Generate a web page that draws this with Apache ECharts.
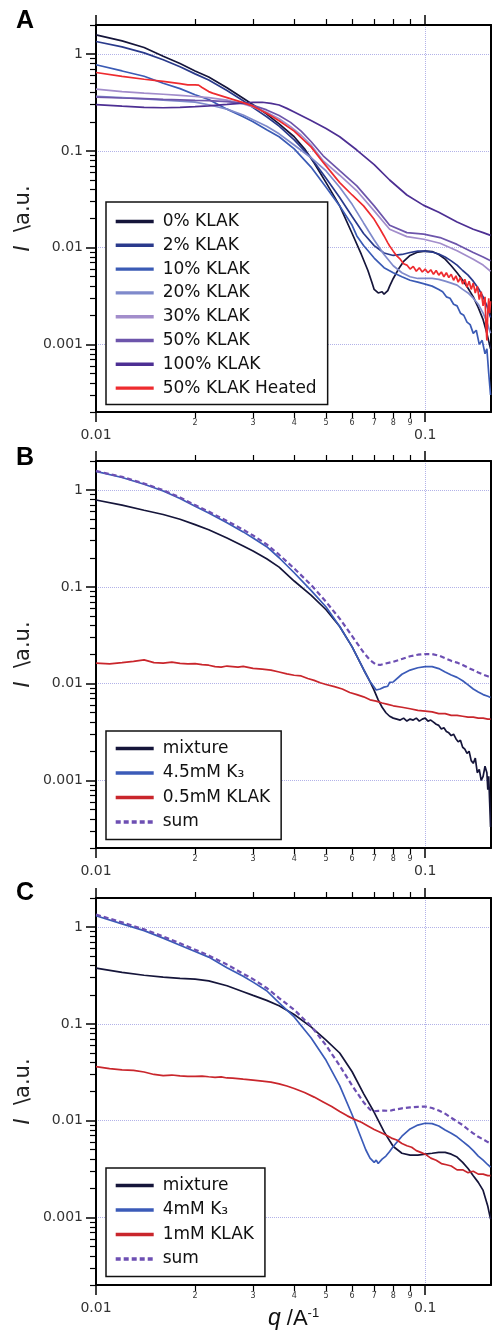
<!DOCTYPE html>
<html><head><meta charset="utf-8">
<script src="https://cdn.jsdelivr.net/npm/echarts@6/dist/echarts.min.js"></script>
<style>html,body{margin:0;padding:0;background:#fff}#c{width:492px;height:1341px}</style>
</head><body><div id="c"></div>
<script>
// ---------------- axis ranges & ticks ----------------
const X_MIN = 0.01, X_MAX = 0.1585;
const Y_MIN = 0.0002, Y_MAX = 2;
const X_MAJOR_TICKS = [0.01, 0.1];
const X_MINOR_TICKS = [0.02, 0.03, 0.04, 0.05, 0.06, 0.07, 0.08, 0.09];
const Y_MAJOR_TICKS = [0.001, 0.01, 0.1, 1];
const Y_MINOR_TICKS = [0.0002,0.0003,0.0004,0.0005,0.0006,0.0007,0.0008,0.0009,
  0.002,0.003,0.004,0.005,0.006,0.007,0.008,0.009,
  0.02,0.03,0.04,0.05,0.06,0.07,0.08,0.09,
  0.2,0.3,0.4,0.5,0.6,0.7,0.8,0.9,2];
const PANEL_LETTERS = ['A','B','C'];

// ---------------- Panel A ----------------
const A_NAMES = ['0% KLAK','2% KLAK','10% KLAK','20% KLAK','30% KLAK','50% KLAK','100% KLAK','50% KLAK Heated'];
const A_COLORS = ['#15153a','#2a3a8c','#3b5bb5','#7f8acb','#a28dcb','#6d55ab','#4d2f93','#ee2b2f'];
const A_KLAK0 = [[.010,1.58],[.012,1.37],[.014,1.17],[.016,.95],[.018,.80],[.020,.67],[.022,.58],[.025,.45],[.028,.35],[.030,.30],[.033,.24],[.036,.19],[.040,.14],[.043,.105],[.046,.075],[.050,.047],[.055,.027],[.060,.014],[.064,.0085],[.067,.0058],[.069,.0043],[.070,.0037],[.072,.0034],[.074,.0035],[.075,.0033],[.077,.0036],[.078,.0040],[.080,.0048],[.083,.0060],[.086,.0072],[.090,.0083],[.095,.0090],[.100,.0092],[.105,.0091],[.110,.0085],[.115,.0076],[.120,.0065],[.125,.0055],[.130,.0046],[.135,.0038],[.140,.0031],[.145,.0024],[.150,.0018],[.154,.0013],[.158,.0009]];
const A_KLAK2 = [[.010,1.35],[.012,1.19],[.014,1.03],[.016,.874],[.018,.74],[.020,.625],[.022,.54],[.025,.42],[.028,.33],[.030,.28],[.033,.225],[.036,.18],[.040,.13],[.045,.085],[.050,.052],[.055,.033],[.060,.021],[.065,.014],[.070,.0105],[.075,.0088],[.080,.0083],[.085,.0085],[.090,.0089],[.095,.0092],[.100,.0092],[.105,.0090],[.110,.0086],[.115,.0080],[.120,.0073],[.125,.0066],[.130,.0058],[.135,.0052],[.140,.0045],[.145,.0038],[.150,.0031],[.154,.0025],[.158,.0019]];
const A_KLAK10 = [[.010,.776],[.012,.67],[.014,.59],[.016,.50],[.018,.44],[.020,.38],[.022,.34],[.025,.27],[.028,.225],[.030,.20],[.033,.165],[.036,.14],[.040,.105],[.045,.068],[.050,.042],[.055,.027],[.060,.017],[.062,.0132],[.065,.0105],[.070,.0078],[.075,.0062],[.080,.0055],[.085,.0050],[.090,.0046],[.095,.0044],[.100,.0042],[.105,.0040],[.110,.0037],[.113,.0035],[.116,.0031],[.119,.0030],[.122,.0026],[.125,.0025],[.128,.0021],[.131,.0020],[.134,.0017],[.137,.0016],[.140,.0013],[.143,.0014],[.146,.0010],[.149,.0011],[.152,.0008],[.154,.0009],[.156,.0005],[.158,.0003]];
const A_KLAK20 = [[.010,.365],[.012,.355],[.014,.345],[.016,.335],[.018,.327],[.020,.319],[.022,.30],[.025,.27],[.028,.235],[.030,.21],[.033,.18],[.036,.15],[.040,.115],[.045,.085],[.050,.062],[.055,.042],[.060,.028],[.065,.018],[.070,.012],[.075,.0085],[.080,.0065],[.085,.0055],[.090,.0050],[.095,.0048],[.100,.0048],[.105,.0048],[.110,.0047],[.115,.0045],[.120,.0043],[.125,.0041],[.130,.0037],[.135,.0034],[.140,.0030],[.145,.0026],[.150,.0021],[.154,.0017],[.158,.0013]];
const A_KLAK30 = [[.010,.435],[.012,.41],[.014,.395],[.016,.385],[.018,.375],[.020,.365],[.022,.355],[.025,.335],[.028,.305],[.030,.285],[.033,.25],[.036,.215],[.039,.178],[.042,.145],[.045,.115],[.049,.079],[.055,.056],[.062,.0387],[.070,.024],[.078,.0155],[.088,.013],[.099,.0122],[.111,.0111],[.125,.0093],[.140,.0076],[.150,.0066],[.158,.0057]];
const A_KLAK50 = [[.010,.36],[.012,.352],[.014,.346],[.016,.341],[.018,.337],[.020,.333],[.022,.33],[.025,.323],[.028,.31],[.030,.295],[.033,.265],[.036,.232],[.039,.197],[.042,.16],[.045,.125],[.049,.089],[.055,.0624],[.062,.0435],[.070,.027],[.078,.017],[.088,.0143],[.099,.0138],[.111,.0127],[.125,.0108],[.140,.0089],[.150,.0080],[.158,.0073]];
const A_KLAK100 = [[.010,.30],[.012,.29],[.014,.282],[.016,.279],[.018,.281],[.020,.286],[.022,.292],[.025,.302],[.028,.312],[.030,.317],[.032,.318],[.034,.31],[.036,.298],[.038,.275],[.040,.252],[.0447,.208],[.050,.17],[.055,.14],[.062,.102],[.070,.072],[.078,.05],[.088,.035],[.0987,.0275],[.110,.0232],[.125,.0184],[.140,.0155],[.150,.0143],[.158,.0134]];
const A_HEATED = [[.010,.646],[.012,.59],[.014,.55],[.016,.522],[.018,.495],[.019,.482],[.020,.48],[.0205,.478],[.021,.452],[.022,.41],[.0226,.395],[.025,.355],[.028,.315],[.030,.29],[.033,.245],[.036,.205],[.040,.16],[.045,.11],[.049,.076],[.055,.047],[.060,.035],[.065,.027],[.070,.0196],[.073,.0155],[.075,.0132],[.077,.0112],[.078,.0104],[.080,.0092],[.082,.0082],[.084,.0076],[.086,.0068],[.088,.0066],[.090,.0060],[.092,.0064],[.094,.0057],[.096,.0062],[.098,.0056],[.100,.0060],[.102,.0055],[.104,.0059],[.106,.0053],[.108,.0058],[.110,.0052],[.112,.0056],[.114,.0050],[.116,.0055],[.118,.0049],[.120,.0053],[.122,.0046],[.124,.0051],[.126,.0044],[.128,.0049],[.130,.0042],[.132,.0047],[.134,.0039],[.136,.0045],[.138,.0037],[.140,.0043],[.142,.0034],[.144,.0040],[.146,.0029],[.148,.0035],[.150,.0025],[.152,.0031],[.153,.0016],[.154,.0011],[.155,.0022],[.156,.0030],[.157,.0021],[.158,.0028]];
const A_DATA = [A_KLAK0, A_KLAK2, A_KLAK10, A_KLAK20, A_KLAK30, A_KLAK50, A_KLAK100, A_HEATED];

// ---------------- Panel B ----------------
const B_NAMES = ['mixture','4.5mM K\u2083','0.5mM KLAK','sum'];
const B_MIXTURE = [[.010,.79],[.012,.70],[.014,.62],[.016,.56],[.018,.50],[.020,.44],[.022,.39],[.025,.32],[.028,.265],[.030,.235],[.033,.195],[.036,.16],[.040,.115],[.045,.082],[.050,.058],[.055,.039],[.060,.024],[.065,.014],[.068,.0105],[.070,.0085],[.072,.0068],[.074,.0057],[.076,.0050],[.078,.0046],[.080,.0044],[.082,.0043],[.084,.0042],[.086,.0044],[.088,.0041],[.090,.0043],[.092,.0042],[.094,.0044],[.096,.0041],[.098,.0043],[.100,.0044],[.102,.0041],[.104,.0042],[.106,.0040],[.108,.0038],[.110,.0037],[.112,.0034],[.114,.0035],[.116,.0032],[.118,.0031],[.120,.0029],[.122,.0030],[.124,.0027],[.126,.0025],[.128,.0026],[.130,.0022],[.132,.0021],[.134,.0019],[.136,.0020],[.138,.0016],[.140,.0015],[.142,.0017],[.144,.0012],[.146,.0013],[.148,.0010],[.150,.0011],[.152,.0014],[.154,.0012],[.155,.0008],[.156,.0011],[.157,.0006],[.158,.00033]];
const B_K3 = [[.010,1.56],[.012,1.35],[.014,1.15],[.016,.98],[.018,.82],[.020,.68],[.022,.58],[.025,.46],[.028,.37],[.030,.32],[.033,.26],[.036,.20],[.040,.14],[.045,.092],[.050,.062],[.055,.039],[.060,.024],[.065,.014],[.068,.0105],[.071,.0086],[.073,.0088],[.075,.0092],[.077,.0094],[.078,.0103],[.079,.0099],[.080,.0104],[.085,.0125],[.090,.0138],[.095,.0146],[.100,.0150],[.105,.0150],[.110,.0143],[.115,.0132],[.120,.0123],[.125,.0116],[.130,.0107],[.135,.0097],[.140,.0088],[.145,.0082],[.150,.0077],[.155,.0074],[.158,.0072]];
const B_KLAK = [[.010,.0163],[.011,.0160],[.012,.0165],[.013,.0170],[.014,.0176],[.015,.0165],[.016,.0163],[.017,.0167],[.018,.0162],[.019,.0160],[.020,.0161],[.021,.0157],[.022,.0155],[.023,.0150],[.024,.0148],[.025,.0152],[.026,.0150],[.027,.0148],[.028,.0151],[.030,.0144],[.032,.0141],[.034,.0138],[.036,.0132],[.038,.0126],[.040,.0122],[.042,.0120],[.044,.0113],[.046,.0108],[.048,.0102],[.050,.0098],[.053,.0093],[.056,.0088],[.059,.0081],[.062,.0077],[.065,.0073],[.068,.0068],[.071,.0066],[.074,.0063],[.077,.0061],[.080,.0059],[.085,.0057],[.090,.0055],[.095,.0053],[.100,.0052],[.105,.0051],[.110,.0049],[.115,.0049],[.120,.0047],[.125,.0047],[.130,.0046],[.135,.0045],[.140,.0045],[.145,.0044],[.150,.0044],[.155,.0043],[.158,.0043]];
const B_SUM = [[.010,1.58],[.012,1.37],[.014,1.17],[.016,1.0],[.018,.84],[.020,.70],[.022,.60],[.025,.48],[.028,.39],[.030,.34],[.033,.275],[.036,.215],[.040,.155],[.045,.105],[.050,.07],[.055,.047],[.060,.031],[.065,.021],[.068,.0175],[.071,.0157],[.073,.0156],[.075,.016],[.080,.0168],[.085,.018],[.090,.0192],[.095,.0199],[.100,.0202],[.105,.0202],[.110,.0195],[.115,.0183],[.120,.0172],[.125,.0165],[.130,.0156],[.135,.0146],[.140,.0138],[.145,.013],[.150,.0124],[.155,.0119],[.158,.0116]];
const B_DATA = [B_MIXTURE, B_K3, B_KLAK, B_SUM];

// ---------------- Panel C ----------------
const C_NAMES = ['mixture','4mM K\u2083','1mM KLAK','sum'];
const C_MIXTURE = [[.010,.377],[.012,.34],[.014,.318],[.016,.304],[.018,.296],[.020,.29],[.022,.278],[.025,.248],[.028,.215],[.030,.197],[.033,.175],[.036,.154],[.040,.125],[.045,.093],[.050,.068],[.055,.05],[.060,.032],[.065,.019],[.070,.0122],[.075,.0077],[.078,.0062],[.080,.0054],[.085,.0046],[.090,.0044],[.095,.0044],[.100,.0045],[.105,.0046],[.110,.0047],[.115,.0047],[.120,.0045],[.125,.0042],[.130,.0037],[.135,.0032],[.140,.0027],[.145,.0023],[.150,.0019],[.155,.0013],[.158,.00096]];
const C_K3 = [[.010,1.31],[.012,1.08],[.014,.92],[.016,.77],[.018,.65],[.020,.56],[.022,.49],[.025,.38],[.028,.31],[.030,.27],[.033,.22],[.036,.165],[.040,.118],[.045,.072],[.050,.042],[.055,.023],[.060,.0115],[.063,.0075],[.066,.005],[.068,.0041],[.070,.0037],[.071,.0039],[.072,.0036],[.074,.0040],[.076,.0043],[.078,.0048],[.080,.0054],[.085,.0069],[.090,.0082],[.095,.009],[.100,.0094],[.105,.0093],[.110,.0088],[.115,.0080],[.120,.0074],[.125,.0068],[.130,.0061],[.135,.0055],[.140,.0049],[.145,.0043],[.150,.0039],[.155,.0035],[.158,.0033]];
const C_KLAK = [[.010,.0362],[.011,.0345],[.012,.0335],[.013,.0330],[.014,.0318],[.015,.0300],[.016,.0292],[.017,.0296],[.018,.0290],[.019,.0287],[.020,.0286],[.021,.0289],[.022,.0284],[.023,.0280],[.024,.0283],[.025,.0276],[.026,.0275],[.027,.0272],[.028,.0268],[.030,.0262],[.032,.0256],[.034,.0250],[.036,.0240],[.038,.0228],[.040,.0215],[.043,.0195],[.046,.0175],[.049,.0156],[.052,.014],[.055,.0124],[.058,.0112],[.061,.0103],[.064,.0096],[.067,.0088],[.070,.0081],[.073,.0076],[.076,.0071],[.079,.0066],[.082,.0063],[.085,.0058],[.088,.0055],[.091,.0053],[.094,.0049],[.097,.0047],[.100,.0045],[.104,.0041],[.108,.0039],[.112,.0036],[.116,.0035],[.120,.0034],[.125,.0031],[.130,.0031],[.135,.0029],[.140,.0030],[.145,.0028],[.150,.0028],[.155,.0027],[.158,.0027]];
const C_SUM = [[.010,1.35],[.012,1.12],[.014,.95],[.016,.80],[.018,.68],[.020,.585],[.022,.51],[.025,.41],[.028,.33],[.030,.29],[.033,.235],[.036,.185],[.040,.14],[.045,.095],[.050,.06],[.055,.037],[.060,.023],[.065,.0155],[.068,.013],[.070,.0125],[.072,.0126],[.075,.0127],[.078,.0126],[.080,.0129],[.085,.0134],[.090,.0137],[.095,.0139],[.100,.014],[.105,.0135],[.110,.0127],[.115,.0118],[.120,.0107],[.125,.0098],[.130,.0090],[.135,.0081],[.140,.0074],[.145,.0068],[.150,.0064],[.155,.006],[.158,.0058]];
const C_DATA = [C_MIXTURE, C_K3, C_KLAK, C_SUM];

const BC_COLORS = ['#15153a','#3b5bb8','#c9262c','#6d4fb3'];
const BC_DASH = [false, false, false, true];

// ---------------- layout ----------------
const GRID_TOPS = [25, 461, 898];
const GRID_H = 387, GRID_LEFT = 96, GRID_W = 395;
const LEGEND_POS = [{left:106, top:202}, {left:106, top:731}, {left:106, top:1168}];
const TITLE_TOPS = [9, 446, 881];

const FONT = 'DejaVu Sans';
const GRIDLINE = {type:'dotted', color:'#b2b2e8', width:1};

function digitLabel(v){ const e = Math.floor(Math.log10(v) + 1e-9); return String(Math.round(v / Math.pow(10, e))); }
function decadeLabel(v){ return String(+(+v).toPrecision(1)); }

const grids = [], xAxes = [], yAxes = [], series = [], legends = [], titles = [];
for (let p = 0; p < 3; p++) {
  grids.push({left: GRID_LEFT, top: GRID_TOPS[p], width: GRID_W, height: GRID_H, outerBoundsMode: 'none', containLabel: false});
  const xBase = {type:'log', logBase:10, gridIndex:p, min:X_MIN, max:X_MAX, axisLine:{show:false, onZero:false},
    axisTick:{show:false}, axisLabel:{show:false}, splitLine:{show:false}, minorTick:{show:false}, minorSplitLine:{show:false}, nameMoveOverlap:false};
  const mainX = Object.assign({}, xBase, {
    position:'bottom',
    axisLine:{show:true, onZero:false, lineStyle:{color:'#000', width:2}},
    axisTick:{show:true, inside:false, length:10, customValues:X_MAJOR_TICKS, lineStyle:{color:'#000', width:1.5}},
    axisLabel:{show:true, customValues:X_MAJOR_TICKS, formatter:decadeLabel, margin:16, fontSize:14, fontFamily:FONT, color:'#333'},
    splitLine:{show:true, lineStyle:GRIDLINE}
  });
  if (p === 2) {
    Object.assign(mainX, {name:'{i|q} /A{s|-1}', nameLocation:'middle', nameGap:22,
      nameTextStyle:{fontSize:22, fontFamily:'Liberation Sans', color:'#111',
        rich:{i:{fontStyle:'italic', fontSize:23, fontFamily:'Liberation Sans', color:'#111'},
              s:{fontSize:13, fontFamily:'Liberation Sans', color:'#111', verticalAlign:'top', padding:[0,0,10,0]}}}});
  }
  xAxes.push(mainX);
  xAxes.push(Object.assign({}, xBase, {position:'bottom',
    axisTick:{show:true, inside:false, length:6, customValues:X_MINOR_TICKS, lineStyle:{color:'#000', width:1.2}},
    axisLabel:{show:true, customValues:X_MINOR_TICKS, formatter:digitLabel, margin:7, fontSize:8, fontFamily:FONT, color:'#333'}}));
  xAxes.push(Object.assign({}, xBase, {position:'top',
    axisLine:{show:true, onZero:false, lineStyle:{color:'#000', width:2}},
    axisTick:{show:true, inside:false, length:10, customValues:X_MAJOR_TICKS, lineStyle:{color:'#000', width:1.5}}}));
  xAxes.push(Object.assign({}, xBase, {position:'top',
    axisTick:{show:true, inside:false, length:6, customValues:X_MINOR_TICKS, lineStyle:{color:'#000', width:1.2}}}));

  const yBase = {type:'log', logBase:10, gridIndex:p, min:Y_MIN, max:Y_MAX, axisLine:{show:false, onZero:false},
    axisTick:{show:false}, axisLabel:{show:false}, splitLine:{show:false}, minorTick:{show:false}, minorSplitLine:{show:false}, nameMoveOverlap:false};
  yAxes.push(Object.assign({}, yBase, {position:'left',
    axisLine:{show:true, onZero:false, lineStyle:{color:'#000', width:2}},
    axisTick:{show:true, inside:false, length:10, customValues:Y_MAJOR_TICKS, lineStyle:{color:'#000', width:1.5}},
    axisLabel:{show:true, customValues:Y_MAJOR_TICKS, formatter:decadeLabel, margin:13, fontSize:14, fontFamily:FONT, color:'#333'},
    splitLine:{show:true, lineStyle:GRIDLINE},
    name:'{i|I}  \\a.u.', nameLocation:'middle', nameRotate:90, nameGap:62,
    nameTextStyle:{fontSize:21, fontFamily:FONT, color:'#222', rich:{i:{fontStyle:'italic', fontSize:21, fontFamily:FONT, color:'#222'}}}}));
  yAxes.push(Object.assign({}, yBase, {position:'left',
    axisTick:{show:true, inside:false, length:6, customValues:Y_MINOR_TICKS, lineStyle:{color:'#000', width:1.2}}}));
  yAxes.push(Object.assign({}, yBase, {position:'right',
    axisLine:{show:true, onZero:false, lineStyle:{color:'#000', width:2}}}));

  const names = p === 0 ? A_NAMES : (p === 1 ? B_NAMES : C_NAMES);
  const datas = p === 0 ? A_DATA : (p === 1 ? B_DATA : C_DATA);
  names.forEach((nm, i) => {
    const col = p === 0 ? A_COLORS[i] : BC_COLORS[i];
    const dashed = p === 0 ? false : BC_DASH[i];
    series.push({type:'line', name:nm, xAxisIndex:4*p, yAxisIndex:3*p, data:datas[i],
      symbol:'none', showSymbol:false, clip:true, silent:true, color:col,
      lineStyle:{color:col, width: dashed ? 2.2 : 1.7, type: dashed ? [5,3] : 'solid'},
      z: 2 + i});
  });
  legends.push({show:true, orient:'vertical', left:LEGEND_POS[p].left, top:LEGEND_POS[p].top, data:names,
    itemWidth:38, itemHeight:14, itemGap: p === 0 ? 6.8 : 7.5,
    padding: p === 0 ? [11, 11, 8, 8] : [9, 11, 9, 8],
    borderColor:'#111', borderWidth:1.5, backgroundColor:'#fff',
    lineStyle:{width:3.4}, itemStyle:{opacity:0},
    textStyle:{fontSize:17, fontFamily:FONT, color:'#111', padding:[0,0,0,4]},
    selectedMode:false});
  titles.push({text:PANEL_LETTERS[p], left:16, top:TITLE_TOPS[p], padding:0,
    textStyle:{fontSize:25, fontWeight:'bold', fontFamily:'Liberation Sans', color:'#000'}});
}

const chart = echarts.init(document.getElementById('c'), null, {renderer:'canvas'});
chart.setOption({animation:false, backgroundColor:'#fff', title:titles, grid:grids, xAxis:xAxes, yAxis:yAxes, legend:legends, series:series});
</script></body></html>
